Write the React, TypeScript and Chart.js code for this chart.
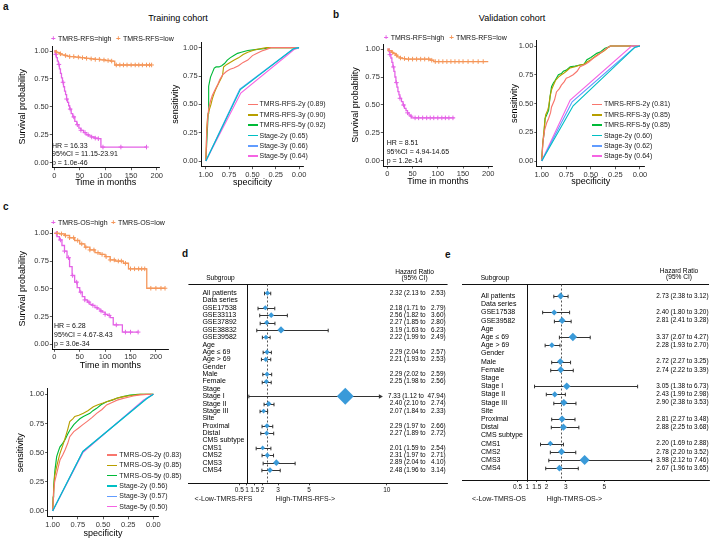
import React, { useEffect, useRef } from "react";
import { Chart, registerables } from "chart.js";

Chart.register(...registerables);

const FONT = "'Liberation Sans', Arial, Helvetica, sans-serif";

// ---------------- shared ticks ----------------
const kmTimeTicks = [0, 50, 100, 150, 200];
const probTicks = [0, 0.25, 0.5, 0.75, 1];

// ---------------- panel a : training cohort (RFS) ----------------
const aHighT = [0, 2, 4, 6, 8, 10, 12, 14, 16, 18, 20, 22, 24, 26, 28, 30, 33, 36, 40, 44, 48, 52, 57, 62, 67, 72, 78, 84, 91, 180];
const aHighS = [1.0, 0.97, 0.94, 0.91, 0.88, 0.84, 0.8, 0.76, 0.72, 0.68, 0.64, 0.61, 0.57, 0.54, 0.51, 0.48, 0.44, 0.41, 0.37, 0.34, 0.31, 0.29, 0.27, 0.25, 0.24, 0.23, 0.22, 0.215, 0.14, 0.14];
const aHighCens = [3, 9, 17, 24, 31, 38, 45, 52, 60, 66, 73, 80, 86, 95, 130, 180];
const aLowT = [0, 3, 6, 10, 15, 20, 25, 30, 40, 50, 60, 70, 80, 90, 100, 110, 118, 190];
const aLowS = [1.0, 0.99, 0.985, 0.975, 0.965, 0.96, 0.955, 0.95, 0.945, 0.94, 0.935, 0.93, 0.925, 0.92, 0.915, 0.91, 0.875, 0.875];
const aLowCens = [4, 12, 22, 30, 38, 47, 55, 63, 72, 80, 88, 97, 105, 112, 121, 128, 135, 142, 150, 158, 165, 172, 180, 186, 190];

// ---------------- panel b : validation cohort (RFS) ----------------
const bHighT = [0, 3, 5, 7, 9, 11, 13, 15, 17, 19, 21, 23, 25, 28, 31, 34, 37, 40, 43, 46, 48, 133];
const bHighS = [1.0, 0.98, 0.95, 0.92, 0.88, 0.84, 0.8, 0.75, 0.7, 0.66, 0.62, 0.59, 0.56, 0.53, 0.5, 0.47, 0.45, 0.43, 0.41, 0.4, 0.385, 0.385];
const bHighCens = [5, 12, 18, 25, 32, 40, 47, 55, 62, 70, 78, 85, 92, 100, 108, 115, 122, 130];
const bLowT = [0, 3, 8, 12, 16, 20, 25, 30, 35, 85, 92, 200];
const bLowS = [1.0, 0.985, 0.97, 0.96, 0.945, 0.93, 0.92, 0.915, 0.91, 0.9, 0.888, 0.888];
const bLowCens = [4, 10, 18, 26, 34, 42, 50, 58, 66, 74, 82, 88, 95, 102, 110, 118, 126, 134, 142, 150, 160, 170, 180, 190];

// ---------------- panel c : OS ----------------
const cHighT = [0, 5, 10, 15, 20, 25, 30, 35, 40, 45, 50, 55, 60, 65, 70, 75, 80, 85, 90, 95, 100, 105, 110, 116, 134, 165];
const cHighS = [1.0, 0.97, 0.94, 0.89, 0.84, 0.78, 0.7, 0.62, 0.56, 0.51, 0.47, 0.43, 0.4, 0.38, 0.36, 0.35, 0.33, 0.32, 0.3, 0.29, 0.27, 0.26, 0.24, 0.175, 0.11, 0.11];
const cHighCens = [4, 12, 20, 28, 36, 44, 52, 60, 68, 76, 84, 92, 100, 108, 122, 140, 150, 165];
const cLowT = [0, 10, 20, 30, 40, 50, 60, 70, 80, 90, 100, 110, 120, 136, 146, 182, 218];
const cLowS = [1.0, 0.995, 0.98, 0.96, 0.935, 0.905, 0.875, 0.85, 0.825, 0.81, 0.79, 0.76, 0.75, 0.73, 0.68, 0.505, 0.505];
const cLowCens = [6, 14, 22, 30, 38, 46, 54, 62, 70, 78, 86, 94, 102, 110, 118, 126, 132, 140, 150, 158, 166, 172, 178, 190, 200, 210, 218];

// ---------------- ROC curves (specificity / sensitivity) ----------------
const rocA2ySpec = [1, 0.99, 0.98, 0.97, 0.95, 0.93, 0.9, 0.87, 0.85, 0.82, 0.78, 0.74, 0.7, 0.65, 0.6, 0.55, 0.5, 0.45, 0.4, 0.35, 0.3, 0.2, 0.1, 0];
const rocA2ySens = [0, 0.25, 0.38, 0.46, 0.53, 0.58, 0.63, 0.68, 0.72, 0.76, 0.79, 0.81, 0.82, 0.84, 0.87, 0.89, 0.93, 0.95, 0.97, 0.985, 1, 1, 1, 1];
const rocA3ySpec = [1, 0.99, 0.98, 0.96, 0.945, 0.93, 0.91, 0.89, 0.86, 0.83, 0.82, 0.81, 0.78, 0.74, 0.7, 0.65, 0.6, 0.55, 0.48, 0.42, 0.35, 0.2, 0];
const rocA3ySens = [0, 0.3, 0.4, 0.46, 0.5, 0.55, 0.6, 0.64, 0.69, 0.74, 0.76, 0.83, 0.85, 0.87, 0.89, 0.91, 0.94, 0.96, 0.98, 0.99, 1, 1, 1];
const rocA5ySpec = [1, 0.975, 0.97, 0.96, 0.95, 0.93, 0.91, 0.89, 0.86, 0.83, 0.8, 0.77, 0.74, 0.7, 0.66, 0.62, 0.55, 0.45, 0.38, 0.31, 0.2, 0];
const rocA5ySens = [0, 0.42, 0.66, 0.7, 0.74, 0.78, 0.82, 0.83, 0.83, 0.84, 0.86, 0.89, 0.91, 0.93, 0.95, 0.96, 0.975, 0.985, 0.99, 1, 1, 1];
const rocAStage2ySpec = [1, 0.63, 0.06, 0];
const rocAStage2ySens = [0, 0.63, 0.99, 1];
const rocAStage3ySpec = [1, 0.635, 0.06, 0];
const rocAStage3ySens = [0, 0.635, 0.99, 1];
const rocAStage5ySpec = [1, 0.625, 0.05, 0];
const rocAStage5ySens = [0, 0.6, 0.985, 1];
const rocALegend = ["TMRS-RFS-2y (0.89)", "TMRS-RFS-3y (0.90)", "TMRS-RFS-5y (0.92)", "Stage-2y (0.65)", "Stage-3y (0.66)", "Stage-5y (0.64)"];

const rocB2ySpec = [1, 0.985, 0.97, 0.95, 0.93, 0.91, 0.9, 0.87, 0.85, 0.82, 0.8, 0.77, 0.75, 0.72, 0.68, 0.64, 0.61, 0.56, 0.52, 0.48, 0.43, 0.37, 0.33, 0.3, 0];
const rocB2ySens = [0, 0.18, 0.27, 0.33, 0.37, 0.42, 0.47, 0.53, 0.6, 0.63, 0.66, 0.69, 0.72, 0.73, 0.75, 0.78, 0.82, 0.84, 0.86, 0.89, 0.92, 0.96, 0.985, 1, 1];
const rocB3ySpec = [1, 0.99, 0.98, 0.97, 0.96, 0.94, 0.93, 0.915, 0.9, 0.88, 0.86, 0.83, 0.8, 0.78, 0.75, 0.71, 0.66, 0.61, 0.57, 0.54, 0.5, 0.44, 0.4, 0.36, 0.32, 0.3, 0];
const rocB3ySens = [0, 0.15, 0.24, 0.33, 0.4, 0.44, 0.47, 0.56, 0.62, 0.66, 0.7, 0.73, 0.75, 0.76, 0.78, 0.81, 0.82, 0.835, 0.84, 0.86, 0.88, 0.92, 0.94, 0.96, 0.99, 1, 1];
const rocB5ySpec = [1, 0.99, 0.976, 0.966, 0.95, 0.93, 0.915, 0.9, 0.88, 0.864, 0.83, 0.8, 0.78, 0.75, 0.71, 0.66, 0.61, 0.57, 0.54, 0.5, 0.44, 0.4, 0.356, 0.32, 0.305, 0];
const rocB5ySens = [0, 0.15, 0.24, 0.37, 0.4, 0.44, 0.56, 0.646, 0.68, 0.7, 0.75, 0.76, 0.78, 0.79, 0.82, 0.825, 0.835, 0.84, 0.88, 0.9, 0.936, 0.95, 0.98, 0.99, 1, 1];
const rocBStage2ySpec = [1, 0.68, 0.05, 0];
const rocBStage2ySens = [0, 0.48, 0.99, 1];
const rocBStage3ySpec = [1, 0.69, 0.06, 0];
const rocBStage3ySens = [0, 0.515, 0.985, 1];
const rocBStage5ySpec = [1, 0.71, 0.085, 0];
const rocBStage5ySens = [0, 0.53, 1, 1];
const rocBLegend = ["TMRS-RFS-2y (0.81)", "TMRS-RFS-3y (0.85)", "TMRS-RFS-5y (0.85)", "Stage-2y (0.60)", "Stage-3y (0.62)", "Stage-5y (0.64)"];

const rocC2ySpec = [1, 0.99, 0.98, 0.96, 0.94, 0.927, 0.9, 0.877, 0.85, 0.83, 0.79, 0.745, 0.7, 0.66, 0.61, 0.563, 0.51, 0.464, 0.41, 0.36, 0.3, 0.25, 0.2, 0.13, 0.066, 0];
const rocC2ySens = [0, 0.15, 0.25, 0.32, 0.39, 0.437, 0.48, 0.523, 0.58, 0.637, 0.68, 0.709, 0.74, 0.766, 0.8, 0.837, 0.87, 0.909, 0.93, 0.95, 0.965, 0.975, 0.986, 0.995, 1, 1];
const rocC3ySpec = [1, 0.99, 0.98, 0.96, 0.94, 0.927, 0.9, 0.877, 0.85, 0.83, 0.8, 0.78, 0.74, 0.695, 0.65, 0.596, 0.55, 0.5, 0.464, 0.4, 0.35, 0.298, 0.22, 0.13, 0];
const rocC3ySens = [0, 0.18, 0.3, 0.38, 0.45, 0.494, 0.56, 0.623, 0.7, 0.766, 0.79, 0.81, 0.82, 0.837, 0.86, 0.894, 0.91, 0.925, 0.937, 0.955, 0.97, 0.98, 0.99, 1, 1];
const rocC5ySpec = [1, 0.995, 0.99, 0.977, 0.96, 0.94, 0.927, 0.9, 0.877, 0.85, 0.828, 0.79, 0.76, 0.73, 0.695, 0.66, 0.63, 0.6, 0.563, 0.52, 0.464, 0.41, 0.364, 0.3, 0.232, 0.15, 0.1, 0];
const rocC5ySens = [0, 0.12, 0.21, 0.35, 0.466, 0.52, 0.55, 0.58, 0.61, 0.66, 0.694, 0.74, 0.766, 0.79, 0.81, 0.825, 0.837, 0.86, 0.88, 0.91, 0.937, 0.95, 0.966, 0.98, 0.994, 1, 1, 1];
const rocCStage2ySpec = [1, 0.7, 0.07, 0];
const rocCStage2ySens = [0, 0.51, 0.96, 1];
const rocCStage3ySpec = [1, 0.7, 0.06, 0];
const rocCStage3ySens = [0, 0.51, 0.97, 1];
const rocCStage5ySpec = [1, 0.7, 0.1, 0];
const rocCStage5ySens = [0, 0.5, 0.95, 1];
const rocCLegend = ["TMRS-OS-2y (0.83)", "TMRS-OS-3y (0.85)", "TMRS-OS-5y (0.85)", "Stage-2y (0.56)", "Stage-3y (0.57)", "Stage-5y (0.50)"];

// ---------------- forest d (TMRS-RFS) ----------------
const dLabels = ["All patients", "Data series", "GSE17538", "GSE33113", "GSE37892", "GSE38832", "GSE39582", "Age", "Age ≤ 69", "Age > 69", "Gender", "Male", "Female", "Stage", "Stage I", "Stage II", "Stage III", "Site", "Proximal", "Distal", "CMS subtype", "CMS1", "CMS2", "CMS3", "CMS4"];
const dHR = [2.32, null, 2.18, 2.56, 2.27, 3.19, 2.22, null, 2.29, 2.21, null, 2.29, 2.25, null, 7.33, 2.4, 2.07, null, 2.29, 2.27, null, 2.01, 2.31, 2.89, 2.48];
const dLo = [2.13, null, 1.71, 1.82, 1.85, 1.63, 1.99, null, 2.04, 1.93, null, 2.02, 1.98, null, 1.12, 2.1, 1.84, null, 1.97, 1.89, null, 1.59, 1.97, 2.04, 1.96];
const dHi = [2.53, null, 2.79, 3.6, 2.8, 6.23, 2.49, null, 2.57, 2.53, null, 2.59, 2.56, null, 47.94, 2.74, 2.33, null, 2.66, 2.72, null, 2.54, 2.71, 4.1, 3.14];
const dTicks = [0.5, 1, 1.5, 2, 3, 5, 10];

// ---------------- forest e (TMRS-OS) ----------------
const eLabels = ["All patients", "Data series", "GSE17538", "GSE39582", "Age", "Age ≤ 69", "Age > 69", "Gender", "Male", "Female", "Stage", "Stage I", "Stage II", "Stage III", "Site", "Proximal", "Distal", "CMS subtype", "CMS1", "CMS2", "CMS3", "CMS4"];
const eHR = [2.73, null, 2.4, 2.81, null, 3.37, 2.28, null, 2.72, 2.74, null, 3.05, 2.43, 2.9, null, 2.81, 2.88, null, 2.2, 2.78, 3.98, 2.67];
const eLo = [2.38, null, 1.8, 2.41, null, 2.67, 1.93, null, 2.27, 2.22, null, 1.38, 1.99, 2.38, null, 2.27, 2.25, null, 1.69, 2.2, 2.12, 1.96];
const eHi = [3.12, null, 3.2, 3.28, null, 4.27, 2.7, null, 3.25, 3.39, null, 6.73, 2.98, 3.53, null, 3.48, 3.68, null, 2.88, 3.52, 7.46, 3.65];
const eTicks = [0.5, 1, 1.5, 2, 3, 5];

// ---------------- styles ----------------
const HIGH = "#E462E6";
const LOW = "#F5975A";
const ROC_COLORS = ["#F8766D", "#B79F00", "#00BA38", "#00BFC4", "#619CFF", "#F564E3"];
const DIAMOND = "#3A9AD9";

type Box = { x: number; y: number; w: number; h: number };
type Area = { l: number; t: number; r: number; b: number };

function frame(box: Box, area: Area, yHidden = false) {
  return {
    padding: { left: yHidden ? area.l - box.x : 0, top: area.t - box.y, right: box.x + box.w - area.r, bottom: 0 },
    yW: area.l - box.x,
    xH: box.y + box.h - area.b,
  };
}

function axis(o: { min: number; max: number; ticks: number[]; fmt: (v: number) => string; size: number; title?: string; reverse?: boolean; fit: (s: any) => void; color?: string }) {
  return {
    type: "linear",
    min: o.min,
    max: o.max,
    reverse: !!o.reverse,
    afterBuildTicks: (s: any) => {
      s.ticks = o.ticks.map((v) => ({ value: v }));
    },
    afterFit: o.fit,
    ticks: {
      callback: (v: any) => o.fmt(Number(v)),
      font: { family: FONT, size: o.size },
      color: o.color || "#333",
      padding: 1,
      autoSkip: false,
      maxRotation: 0,
      minRotation: 0,
    },
    grid: { display: true, drawOnChartArea: false, drawTicks: true, tickLength: 2.5, color: "#333", lineWidth: 0.8 },
    border: { display: true, color: "#111", width: 1 },
    title: o.title
      ? { display: true, text: o.title, font: { family: FONT, size: 9 }, color: "#000", padding: 0 }
      : { display: false },
  };
}

const baseOptions = (padding: any) => ({
  responsive: false,
  animation: false,
  events: [],
  layout: { padding },
  plugins: { legend: { display: false }, tooltip: { enabled: false }, title: { display: false } },
});

const stepAt = (ts: number[], ss: number[], t: number) => {
  let v = ss[0];
  for (let i = 0; i < ts.length; i++) if (ts[i] <= t) v = ss[i];
  return v;
};
const pairs = (xs: number[], ys: number[]) => xs.map((x, i) => ({ x, y: ys[i] }));

function kmConfig(box: Box, area: Area, xMin: number, xMax: number, hT: number[], hS: number[], hC: number[], lT: number[], lS: number[], lC: number[]) {
  const f = frame(box, area);
  const line = (t: number[], s: number[], c: string) => ({
    type: "line",
    data: pairs(t, s),
    borderColor: c,
    borderWidth: 1.3,
    stepped: "before",
    pointRadius: 0,
    fill: false,
  });
  const cens = (t: number[], s: number[], cs: number[], c: string) => ({
    type: "scatter",
    data: cs.map((x) => ({ x, y: stepAt(t, s, x) })),
    pointStyle: "cross",
    pointRadius: 2.3,
    borderColor: c,
    backgroundColor: c,
    borderWidth: 1,
    showLine: false,
  });
  return {
    type: "line",
    data: {
      datasets: [line(lT, lS, LOW), line(hT, hS, HIGH), cens(lT, lS, lC, LOW), cens(hT, hS, hC, HIGH)],
    },
    options: {
      ...baseOptions(f.padding),
      scales: {
        x: axis({ min: xMin, max: xMax, ticks: kmTimeTicks, fmt: (v) => String(v), size: 7.5, title: "Time in months", fit: (s) => { s.height = f.xH; } }),
        y: axis({ min: -0.045, max: 1.045, ticks: probTicks, fmt: (v) => v.toFixed(2), size: 7.5, title: "Survival probability", fit: (s) => { s.width = f.yW; } }),
      },
    },
  };
}

function rocConfig(box: Box, area: Area, curves: [number[], number[]][]) {
  const f = frame(box, area);
  const order = [3, 4, 5, 0, 1, 2];
  return {
    type: "line",
    data: {
      datasets: order.map((k) => ({
        data: pairs(curves[k][0], curves[k][1]),
        borderColor: ROC_COLORS[k],
        borderWidth: 1.15,
        pointRadius: 0,
        fill: false,
        tension: 0,
      })),
    },
    options: {
      ...baseOptions(f.padding),
      scales: {
        x: axis({ min: -0.05, max: 1.05, reverse: true, ticks: probTicks, fmt: (v) => v.toFixed(2), size: 7.5, title: "specificity", fit: (s) => { s.height = f.xH; } }),
        y: axis({ min: -0.05, max: 1.05, ticks: probTicks, fmt: (v) => v.toFixed(2), size: 7.5, title: "sensitivity", fit: (s) => { s.width = f.yW; } }),
      },
    },
  };
}

type ForestSpec = {
  labels: string[];
  hr: (number | null)[];
  lo: (number | null)[];
  hi: (number | null)[];
  ci: string[];
  clip: number;
  labelDx: number;
  ciDx: number;
  subDx: number;
  hrDx: number;
};

function forestPlugin(p: ForestSpec) {
  return {
    id: "forest",
    beforeDatasetsDraw(chart: any) {
      const { ctx, chartArea: ca, scales } = chart;
      const X = (v: number) => scales.x.getPixelForValue(v);
      const Y = (v: number) => scales.y.getPixelForValue(v);
      ctx.save();
      ctx.lineWidth = 1;
      ctx.strokeStyle = "#111";
      const top = Math.round(ca.top) + 0.5;
      ctx.beginPath();
      ctx.moveTo(ca.left, top);
      ctx.lineTo(ca.right, top);
      ctx.stroke();
      const nx = Math.round(X(1)) + 0.5;
      ctx.beginPath();
      ctx.moveTo(nx, top);
      ctx.lineTo(nx, ca.bottom);
      ctx.stroke();
      const ox = Math.round(X(p.hr[0] as number)) + 0.5;
      ctx.setLineDash([2, 2]);
      ctx.strokeStyle = "#555";
      ctx.beginPath();
      ctx.moveTo(ox, top);
      ctx.lineTo(ox, ca.bottom);
      ctx.stroke();
      ctx.setLineDash([]);
      ctx.strokeStyle = "#333";
      ctx.fillStyle = "#333";
      p.hr.forEach((h, i) => {
        if (h == null) return;
        const yy = Math.round(Y(i)) + 0.5;
        const lo = p.lo[i] as number;
        const hi = p.hi[i] as number;
        const clipped = hi > p.clip;
        const x0 = X(lo);
        const x1 = X(clipped ? p.clip : hi);
        ctx.beginPath();
        ctx.moveTo(x0, yy);
        ctx.lineTo(clipped ? x1 - 3 : x1, yy);
        ctx.moveTo(x0, yy - 1.8);
        ctx.lineTo(x0, yy + 1.8);
        if (!clipped) {
          ctx.moveTo(x1, yy - 1.8);
          ctx.lineTo(x1, yy + 1.8);
        }
        ctx.stroke();
        if (clipped) {
          ctx.beginPath();
          ctx.moveTo(x1, yy);
          ctx.lineTo(x1 - 4, yy - 2.2);
          ctx.lineTo(x1 - 4, yy + 2.2);
          ctx.closePath();
          ctx.fill();
        }
      });
      ctx.restore();
    },
    afterDraw(chart: any) {
      const { ctx, chartArea: ca, scales } = chart;
      const Y = (v: number) => scales.y.getPixelForValue(v);
      ctx.save();
      ctx.fillStyle = "#000";
      ctx.textBaseline = "middle";
      ctx.font = `7px ${FONT}`;
      ctx.textAlign = "left";
      p.labels.forEach((lab, i) => ctx.fillText(lab, ca.left + p.labelDx, Y(i)));
      ctx.font = `6.4px ${FONT}`;
      ctx.textAlign = "right";
      p.ci.forEach((t, i) => {
        if (t) ctx.fillText(t, ca.right - p.ciDx, Y(i));
      });
      ctx.textAlign = "center";
      ctx.font = `6.6px ${FONT}`;
      ctx.fillText("Subgroup", ca.left + p.subDx, ca.top - 6);
      ctx.fillText("Hazard Ratio", ca.right - p.hrDx, ca.top - 12.5);
      ctx.fillText("(95% CI)", ca.right - p.hrDx, ca.top - 6.5);
      ctx.restore();
    },
  };
}

function forestConfig(box: Box, area: Area, xMin: number, xMax: number, yMin: number, yMax: number, ticks: number[], k: number, spec: ForestSpec) {
  const f = frame(box, area, true);
  const pts = spec.hr
    .map((h, i) => (h == null ? null : { x: h, y: i }))
    .filter((v) => v !== null);
  return {
    type: "scatter",
    data: {
      datasets: [
        {
          data: pts,
          pointStyle: "rectRot",
          pointRadius: (c: any) => (c.raw ? k * c.raw.x : 3),
          backgroundColor: DIAMOND,
          borderColor: DIAMOND,
          borderWidth: 0,
        },
      ],
    },
    options: {
      ...baseOptions(f.padding),
      scales: {
        x: {
          ...axis({ min: xMin, max: xMax, ticks, fmt: (v) => String(v), size: 6.5, color: "#111", fit: (s) => { s.height = f.xH; } }),
          grid: { display: true, drawOnChartArea: false, drawTicks: true, tickLength: 2, color: "#111", lineWidth: 0.8 },
        },
        y: { type: "linear", display: false, min: yMin, max: yMax, reverse: true },
      },
    },
    plugins: [forestPlugin(spec)],
  };
}

function ChartCanvas({ box, make }: { box: Box; make: () => any }) {
  const ref = useRef<HTMLCanvasElement | null>(null);
  useEffect(() => {
    if (!ref.current) return;
    const chart = new Chart(ref.current, make());
    return () => chart.destroy();
  }, []);
  return (
    <canvas
      ref={ref}
      width={box.w}
      height={box.h}
      style={{ position: "absolute", left: box.x, top: box.y, width: box.w, height: box.h }}
    />
  );
}

function Txt({ x, y, children, size = 7, align = "left", color = "#111", weight = 400 }: any) {
  const tx = align === "center" ? "-50%" : align === "right" ? "-100%" : "0";
  return (
    <div
      style={{
        position: "absolute",
        left: x,
        top: y,
        transform: `translate(${tx},-50%)`,
        fontSize: size,
        color,
        fontWeight: weight,
        whiteSpace: "pre",
        lineHeight: 1.15,
        fontFamily: FONT,
      }}
    >
      {children}
    </div>
  );
}

function KmLegend({ y, items }: { y: number; items: { px: number; tx: number; color: string; text: string }[] }) {
  return (
    <>
      {items.map((it, i) => (
        <React.Fragment key={i}>
          <Txt x={it.px} y={y} size={8} align="center" color={it.color} weight={700}>+</Txt>
          <Txt x={it.tx} y={y} size={7}>{it.text}</Txt>
        </React.Fragment>
      ))}
    </>
  );
}

function RocLegend({ x1, tx, ys, labels }: { x1: number; tx: number; ys: number[]; labels: string[] }) {
  return (
    <>
      {labels.map((lab, i) => (
        <React.Fragment key={i}>
          <div style={{ position: "absolute", left: x1, top: ys[i] - 0.75, width: 10, height: 1.5, background: ROC_COLORS[i] }} />
          <Txt x={tx} y={ys[i]} size={7} color="#222">{lab}</Txt>
        </React.Fragment>
      ))}
    </>
  );
}

const fmtCI = (hr: (number | null)[], lo: (number | null)[], hi: (number | null)[], pad: number) =>
  hr.map((h, i) =>
    h == null ? "" : `${h.toFixed(2)} (${(lo[i] as number).toFixed(2)} to ${(hi[i] as number).toFixed(2).padStart(pad)})`
  );

export default function App() {
  const kmA = { box: { x: 17, y: 38, w: 153, h: 150 }, area: { l: 52.25, t: 46, r: 159.3, b: 167.7 } };
  const kmB = { box: { x: 350, y: 36, w: 150, h: 151 }, area: { l: 383.3, t: 44, r: 492.3, b: 166 } };
  const kmC = { box: { x: 17, y: 220, w: 160, h: 151 }, area: { l: 52.3, t: 228.3, r: 168.6, b: 349.3 } };
  const rocA = { box: { x: 170, y: 34, w: 142, h: 154 }, area: { l: 201.2, t: 42, r: 303.7, b: 166.7 } };
  const rocB = { box: { x: 509, y: 32, w: 146, h: 155 }, area: { l: 536.8, t: 40.25, r: 644.9, b: 166.75 } };
  const rocC = { box: { x: 15, y: 380, w: 155, h: 159 }, area: { l: 47.6, t: 388.5, r: 158.4, b: 516.8 } };
  const fd = { box: { x: 180, y: 262, w: 276, h: 243 }, area: { l: 188, t: 284.2, r: 450, b: 483.3 } };
  const fe = { box: { x: 456, y: 262, w: 258, h: 243 }, area: { l: 462, t: 284, r: 712, b: 480 } };

  const legendYs = [104.3, 115, 125, 135.7, 146, 156];
  const legendYsC = [455, 465.3, 475.7, 486, 496.3, 506.5];

  return (
    <div style={{ position: "absolute", left: 0, top: 0, width: 714, height: 539, background: "#fff", overflow: "hidden", fontFamily: FONT }}>
      <ChartCanvas box={kmA.box} make={() => kmConfig(kmA.box, kmA.area, -4, 205, aHighT, aHighS, aHighCens, aLowT, aLowS, aLowCens)} />
      <ChartCanvas box={kmB.box} make={() => kmConfig(kmB.box, kmB.area, -8, 208, bHighT, bHighS, bHighCens, bLowT, bLowS, bLowCens)} />
      <ChartCanvas box={kmC.box} make={() => kmConfig(kmC.box, kmC.area, -4, 225, cHighT, cHighS, cHighCens, cLowT, cLowS, cLowCens)} />
      <ChartCanvas
        box={rocA.box}
        make={() =>
          rocConfig(rocA.box, rocA.area, [
            [rocA2ySpec, rocA2ySens], [rocA3ySpec, rocA3ySens], [rocA5ySpec, rocA5ySens],
            [rocAStage2ySpec, rocAStage2ySens], [rocAStage3ySpec, rocAStage3ySens], [rocAStage5ySpec, rocAStage5ySens],
          ])
        }
      />
      <ChartCanvas
        box={rocB.box}
        make={() =>
          rocConfig(rocB.box, rocB.area, [
            [rocB2ySpec, rocB2ySens], [rocB3ySpec, rocB3ySens], [rocB5ySpec, rocB5ySens],
            [rocBStage2ySpec, rocBStage2ySens], [rocBStage3ySpec, rocBStage3ySens], [rocBStage5ySpec, rocBStage5ySens],
          ])
        }
      />
      <ChartCanvas
        box={rocC.box}
        make={() =>
          rocConfig(rocC.box, rocC.area, [
            [rocC2ySpec, rocC2ySens], [rocC3ySpec, rocC3ySens], [rocC5ySpec, rocC5ySens],
            [rocCStage2ySpec, rocCStage2ySens], [rocCStage3ySpec, rocCStage3ySens], [rocCStage5ySpec, rocCStage5ySens],
          ])
        }
      />
      <ChartCanvas
        box={fd.box}
        make={() =>
          forestConfig(fd.box, fd.area, -2.771, 13.917, -1.2, 25.8, dTicks, 1.15, {
            labels: dLabels, hr: dHR, lo: dLo, hi: dHi, ci: fmtCI(dHR, dLo, dHi, 6),
            clip: 9.75, labelDx: 14, ciDx: 2, subDx: 32, hrDx: 33,
          })
        }
      />
      <ChartCanvas
        box={fe.box}
        make={() =>
          forestConfig(fe.box, fe.area, -2.385, 10.436, -1.463, 22.44, eTicks, 1.25, {
            labels: eLabels, hr: eHR, lo: eLo, hi: eHi, ci: fmtCI(eHR, eLo, eHi, 4),
            clip: 100, labelDx: 19, ciDx: 0.5, subDx: 33, hrDx: 30,
          })
        }
      />

      {/* panel letters and titles */}
      <Txt x={3} y={7} size={10} weight={700}>a</Txt>
      <Txt x={333} y={15} size={10} weight={700}>b</Txt>
      <Txt x={3} y={207} size={10} weight={700}>c</Txt>
      <Txt x={182} y={254} size={10} weight={700}>d</Txt>
      <Txt x={445} y={255} size={10} weight={700}>e</Txt>
      <Txt x={178} y={18} size={9} align="center" color="#000">Training cohort</Txt>
      <Txt x={512} y={18} size={9} align="center" color="#000">Validation cohort</Txt>

      {/* KM legends */}
      <KmLegend y={39} items={[{ px: 53.3, tx: 58, color: HIGH, text: "TMRS-RFS=high" }, { px: 118.3, tx: 123, color: LOW, text: "TMRS-RFS=low" }]} />
      <KmLegend y={37.7} items={[{ px: 386, tx: 390.7, color: HIGH, text: "TMRS-RFS=high" }, { px: 451.7, tx: 456, color: LOW, text: "TMRS-RFS=low" }]} />
      <KmLegend y={222.7} items={[{ px: 53.3, tx: 58, color: HIGH, text: "TMRS-OS=high" }, { px: 113.3, tx: 118, color: LOW, text: "TMRS-OS=low" }]} />

      {/* KM statistics */}
      <Txt x={52} y={145.7} size={7}>HR = 16.33</Txt>
      <Txt x={52} y={154.3} size={7}>95%CI = 11.15-23.91</Txt>
      <Txt x={52} y={162.7} size={7}>p = 1.0e-46</Txt>
      <Txt x={386.7} y={143.3} size={7}>HR = 8.51</Txt>
      <Txt x={386.7} y={152.3} size={7}>95%CI = 4.94-14.65</Txt>
      <Txt x={386.7} y={160.7} size={7}>p = 1.2e-14</Txt>
      <Txt x={54} y={326} size={7}>HR = 6.28</Txt>
      <Txt x={54} y={335} size={7}>95%CI = 4.67-8.43</Txt>
      <Txt x={54} y={344} size={7}>p = 3.0e-34</Txt>

      {/* ROC legends */}
      <RocLegend x1={247.7} tx={259.5} ys={legendYs} labels={rocALegend} />
      <RocLegend x1={591.7} tx={604} ys={legendYs} labels={rocBLegend} />
      <RocLegend x1={106.7} tx={119.3} ys={legendYsC} labels={rocCLegend} />

      {/* forest direction labels */}
      <Txt x={223.5} y={499} size={7} align="center">{"<-Low-TMRS-RFS"}</Txt>
      <Txt x={305.5} y={499} size={7} align="center">{"High-TMRS-RFS->"}</Txt>
      <Txt x={499} y={499} size={7} align="center">{"<-Low-TMRS-OS"}</Txt>
      <Txt x={574.5} y={499} size={7} align="center">{"High-TMRS-OS->"}</Txt>
    </div>
  );
}
